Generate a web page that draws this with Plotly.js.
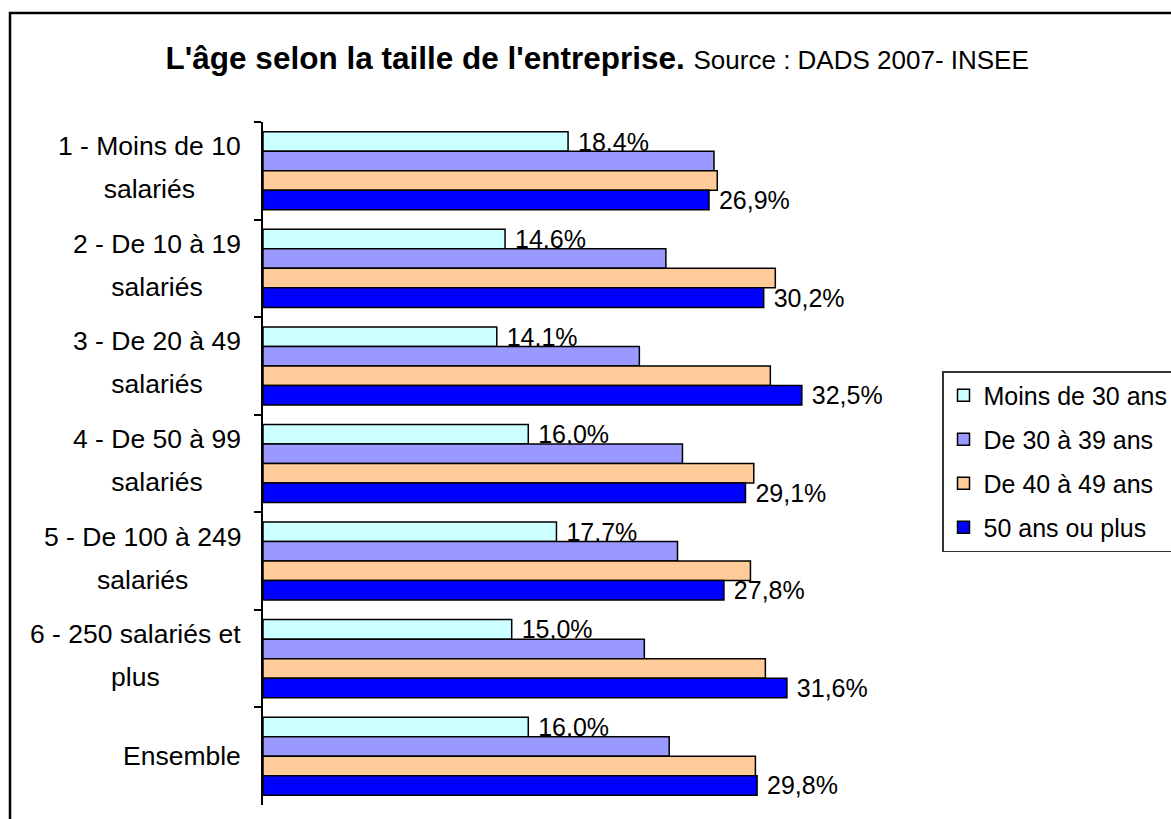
<!DOCTYPE html>
<html>
<head>
<meta charset="utf-8">
<script src="https://cdn.plot.ly/plotly-3.0.1.min.js"></script>
<style>
  html, body { margin: 0; padding: 0; background: #ffffff; }
  #chart { width: 1171px; height: 819px; }
</style>
</head>
<body>
<div id="chart"></div>
<script>
// ---- Data ----
const categories = [
  '1 - Moins de 10<br>salariés',
  '2 - De 10 à 19<br>salariés',
  '3 - De 20 à 49<br>salariés',
  '4 - De 50 à 99<br>salariés',
  '5 - De 100 à 249<br>salariés',
  '6 - 250 salariés et<br>plus',
  'Ensemble'
];
const seriesNames = ['Moins de 30 ans', 'De 30 à 39 ans', 'De 40 à 49 ans', '50 ans ou plus'];
const moins30  = [18.4, 14.6, 14.1, 16.0, 17.7, 15.0, 16.0];
const de30a39  = [27.2, 24.3, 22.7, 25.3, 25.0, 23.0, 24.5];
const de40a49  = [27.4, 30.9, 30.6, 29.6, 29.4, 30.3, 29.7];
const plus50   = [26.9, 30.2, 32.5, 29.1, 27.8, 31.6, 29.8];
const titleMain = "L'âge selon la taille de l'entreprise.";
const titleSource = 'Source : DADS 2007- INSEE';

// ---- Styles ----
const FONT = 'Liberation Sans, Arial, Helvetica, sans-serif';
const colors = ['#CCFFFF', '#9999FF', '#FFCC99', '#0000FF'];
const values = [moins30, de30a39, de40a49, plus50];
const showLabels = [true, false, false, true];

const traces = values.map((vals, i) => ({
  type: 'bar',
  orientation: 'h',
  name: seriesNames[i],
  legendgroup: 'g' + i,
  x: vals,
  y: categories,
  marker: { color: colors[i], line: { color: '#000000', width: 1.5 } },
  texttemplate: showLabels[i] ? '\u00a0%{x:.1f}%' : '',
  textposition: showLabels[i] ? 'outside' : 'none',
  textfont: { family: FONT, size: 25, color: '#000000' },
  constraintext: 'none',
  cliponaxis: false,
  hoverinfo: 'x+name'
}));

// Category labels: right-aligned block, lines centred, wider Excel-like line spacing
const labelAnnotations = categories.map(c => ({
  x: 0, xref: 'paper', xanchor: 'right', xshift: -20,
  y: c, yref: 'y', yanchor: 'middle', yshift: c.indexOf('<br>') >= 0 ? 3 : 0,
  text: c.split('<br>').map(l => '<span style="font-size:26.5px">' + l + '</span>').join('<br>'),
  align: 'center', showarrow: false,
  font: { family: FONT, size: 33, color: '#000000' }
}));

const layout = {
  width: 1171,
  height: 819,
  paper_bgcolor: '#ffffff',
  plot_bgcolor: '#ffffff',
  separators: ', ',
  font: { family: FONT, color: '#000000' },
  margin: { l: 263, r: 241, t: 122, b: 14, autoexpand: false },
  barmode: 'group',
  bargap: 0.2,
  bargroupgap: 0,
  title: {
    text: '<b>' + titleMain + '</b> <span style="font-size:26px">' + titleSource + '</span>',
    font: { family: FONT, size: 31.5, color: '#000000' },
    x: 0.510, xanchor: 'center', xref: 'container',
    y: 0.929, yanchor: 'middle', yref: 'container'
  },
  xaxis: {
    range: [0, 40.23],
    visible: false,
    showgrid: false,
    zeroline: false,
    fixedrange: true
  },
  yaxis: {
    type: 'category',
    autorange: 'reversed',
    showline: true,
    linecolor: '#000000',
    linewidth: 1.5,
    ticks: 'outside',
    tickson: 'boundaries',
    ticklen: 7,
    tickcolor: '#000000',
    tickwidth: 1.5,
    showticklabels: false,
    showgrid: false,
    zeroline: false,
    fixedrange: true
  },
  showlegend: true,
  legend: {
    x: 1.018, xanchor: 'left',
    y: 0.6354, yanchor: 'top',
    traceorder: 'grouped',
    tracegroupgap: 8.5,
    bgcolor: '#ffffff',
    bordercolor: '#333333',
    borderwidth: 1.5,
    font: { family: FONT, size: 25, color: '#000000' }
  },
  annotations: labelAnnotations,
  shapes: [{
    type: 'rect', xref: 'paper', yref: 'paper',
    x0: -0.3793, x1: 2, y0: -0.5, y1: 1.1596,
    line: { color: '#000000', width: 2.5 },
    fillcolor: 'rgba(0,0,0,0)',
    layer: 'above'
  }]
};

Plotly.newPlot('chart', traces, layout, { displayModeBar: false, staticPlot: false });
</script>
</body>
</html>
